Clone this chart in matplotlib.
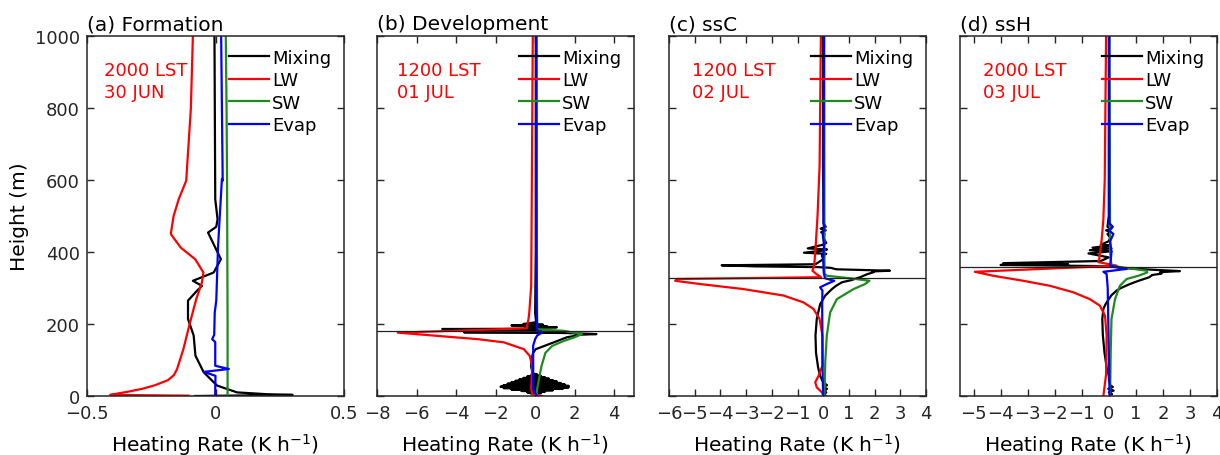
import matplotlib
matplotlib.use("Agg")
import matplotlib.pyplot as plt
from matplotlib.ticker import FuncFormatter

plt.rcParams['font.family'] = ['DejaVu Sans']
plt.rcParams['mathtext.default'] = 'regular'

# ---------------- (a) Formation ----------------
a_mix_x = [-0.004, -0.001, 0.008, 0.003, -0.029, 0.021, -0.007, -0.088, -0.053, -0.075, -0.107,
           -0.107, -0.085, -0.078, -0.046, 0.006, 0.084, 0.20, 0.30, -0.08]
a_mix_h = [1000, 547, 491, 470, 454, 380, 343, 320, 306, 290, 265,
           214, 168, 112, 66, 29, 10, 5, 3, 0]
a_lw_x = [-0.088, -0.096, -0.114, -0.143, -0.163, -0.174, -0.135, -0.079, -0.047, -0.053,
          -0.075, -0.101, -0.125, -0.150, -0.162, -0.185, -0.235, -0.285, -0.34, -0.38,
          -0.41, -0.105]
a_lw_h = [1000, 797, 598, 547, 500, 450, 412, 380, 343, 315,
          269, 199, 130, 74, 58, 44, 30, 20, 12, 7,
          3, 1]
a_sw_x = [0.040, 0.043, 0.045, 0.046, 0.047, 0.047]
a_sw_h = [1000, 800, 600, 400, 200, 0]
a_ev_x = [0.022, 0.028, 0.025, 0.010, 0.003, -0.003, -0.005, -0.013, -0.001, -0.001,
          0.052, -0.046, 0.0, -0.001, -0.001]
a_ev_h = [1000, 598, 603, 417, 265, 232, 170, 158, 150, 84,
          75, 67, 56, 20, 0]

# ---------------- (b) Development ----------------
b_mix_x = [0.03, 0.03, 0.0, 0.05, -0.6, 0.4, -1.2, 0.6, -0.3, 1.1, -0.5, 0.2, -4.7, 0.1, -4.2,
           0.3, -2.0, 0.5, -3.6, 1.5, 2.6, 3.1, 2.2, 2.0, 1.6, 0.94, 0.27, 0.03, -0.1, -0.2,
           -0.2, -0.15, -0.1,
           0.1, -0.2, 0.3, -0.4, 0.5, -0.6, 0.7, -0.8, 0.9, -1.0, 1.1, -1.2, 1.3, -1.4, 1.5,
           -1.6, 1.7, -1.75, 1.7, -1.6, 1.4, -1.2, 0.9, -0.7, 0.5, -0.4, 0.3, -0.2, 0.1, 0.0]
b_mix_h = [1000, 400, 230, 205, 200, 198, 196, 194, 192, 191, 189, 187, 186, 185, 184,
           182, 180, 178, 177, 175, 173, 172, 170, 167, 163, 149, 135, 130, 120, 100,
           80, 70, 62,
           60, 58, 56, 54, 52, 50, 48, 46, 44, 42, 40, 38, 36, 34, 32,
           30, 28, 26, 24, 22, 20, 18, 16, 14, 12, 10, 8, 6, 4, 0]
b_lw_x = [-0.12, -0.2, -0.3, -0.34, -0.42, -6.95, -4.94, -2.92, -1.58, -0.57, -0.27, -0.15,
          -0.2, -0.15, 0.35]
b_lw_h = [1000, 306, 230, 213, 188, 176, 167, 158, 149, 130, 111, 83,
          19, 5, 0]
b_sw_x = [0.08, 0.08, 0.1, 0.44, 1.45, 2.37, 1.99, 1.45, 0.86, 0.52, 0.32, 0.19, 0.1, 0.07]
b_sw_h = [1000, 400, 186, 184, 181, 172, 163, 153, 139, 120, 83, 46, 19, 0]
b_ev_x = [0.05, 0.07, 0.1, 0.1, 0.35, 0.1, 0.0, -0.1, -0.1, 0.0, 0.1]
b_ev_h = [1000, 269, 195, 181, 176, 168, 158, 140, 19, 8, 0]

# ---------------- (c) ssC ----------------
c_mix_x = [0.0, 0.0, 0.02, 0.1, -0.1, 0.1, -0.08, 0.05, 0.0, 0.12, -0.02, -0.6, 0.15, -0.1,
           -0.75, 0.12, -0.05, 0.0, -0.3, -3.95, -2.6, -0.2, 0.3, 0.5, 2.6, 1.9, 1.96, 1.7,
           1.44, 1.1, 0.73, 0.5, 0.34, 0.08, -0.12, -0.25, -0.3, -0.28, -0.2, -0.12, 0.0,
           0.15, 0.0, 0.15, 0.05, 0.12, 0.05, 0.1]
c_mix_h = [1000, 600, 480, 470, 465, 460, 455, 450, 440, 425, 420, 410, 407, 403,
           398, 395, 390, 380, 366, 363, 360, 358, 356, 352, 348, 346, 344, 338,
           330, 322, 316, 306, 297, 279, 255, 214, 168, 120, 80, 56, 38,
           30, 25, 20, 15, 10, 5, 0]
c_lw_x = [-0.09, -0.14, -0.22, -0.3, -0.35, -0.42, -0.25, -0.08, -5.7, -5.76, -4.79,
          -3.1, -1.54, -0.77, -0.38, -0.14, -0.03, -0.03, -0.18, -0.31, -0.25, -0.05, 0.01]
c_lw_h = [1000, 640, 501, 408, 362, 348, 338, 330, 325, 320, 311,
          297, 279, 260, 242, 214, 168, 84, 56, 38, 24, 10, 0]
c_sw_x = [0.04, 0.05, 0.14, 1.05, 1.8, 1.63, 1.18, 0.53, 0.27, 0.14, 0.08, 0.05]
c_sw_h = [1000, 340, 334, 327, 320, 311, 297, 269, 232, 168, 94, 0]
c_ev_x = [0.03, 0.01, 0.04, -0.02, 0.03, 0.0, 0.02, 0.07, 0.43, 0.14, -0.12, -0.03, -0.04,
          -0.02, 0.0]
c_ev_h = [1000, 480, 465, 450, 420, 380, 343, 327, 320, 311, 302, 293, 251,
          50, 0]

# ---------------- (d) ssH ----------------
d_mix_x = [0.0, 0.0, -0.05, 0.1, -0.1, 0.08, -0.05, 0.05, 0.0, -0.3, 0.05, -0.6, 0.1, -0.7,
           0.1, -0.75, 0.0, -0.3, -3.9, -1.5, -4.0, -0.5, 0.1, 0.6, 1.8, 2.63, 1.9, 1.95,
           1.6, 1.5, 1.1, 0.78, 0.45, 0.29, 0.1, 0.0, -0.12, -0.2, -0.24, -0.22, -0.16,
           -0.08, 0.0, 0.05, 0.15, -0.02, 0.18, 0.0, 0.12, 0.05]
d_mix_h = [1000, 500, 470, 465, 460, 455, 450, 440, 430, 420, 418, 412, 410, 405,
           402, 396, 385, 375, 369, 366, 364, 361, 359, 355, 350, 347, 344, 340,
           336, 330, 320, 311, 300, 293, 280, 269, 255, 242, 214, 170, 121,
           80, 56, 30, 25, 20, 15, 10, 5, 0]
d_lw_x = [-0.1, -0.15, -0.2, -0.26, -0.35, -0.39, 0.29, -4.95, -4.27, -3.16, -2.17, -1.31,
          -0.7, -0.33, -0.14, -0.08, -0.1, -0.2]
d_lw_h = [1000, 600, 492, 436, 381, 372, 362, 345, 334, 320, 306, 288,
          269, 251, 223, 168, 60, 0]
d_sw_x = [0.02, 0.05, 0.1, 0.91, 1.4, 1.42, 1.09, 0.66, 0.41, 0.23, 0.1, 0.07, 0.05]
d_sw_h = [1000, 400, 362, 353, 348, 343, 334, 325, 306, 269, 214, 120, 0]
d_ev_x = [0.02, 0.02, 0.15, 0.0, 0.17, 0.05, 0.1, 0.05, 0.66, -0.2, -0.08, -0.04, 0.03]
d_ev_h = [1000, 480, 470, 460, 450, 430, 400, 362, 353, 345, 339, 300, 0]

titles = ['(a) Formation', '(b) Development', '(c) ssC', '(d) ssH']
times = ['2000 LST\n30 JUN', '1200 LST\n01 JUL', '1200 LST\n02 JUL', '2000 LST\n03 JUL']
xlims = [(-0.5, 0.5), (-8, 5), (-6, 4), (-5.5, 4)]
xticks = [[-0.5, 0, 0.5], [-8, -6, -4, -2, 0, 2, 4], list(range(-6, 5)), list(range(-5, 5))]
top_lines = [None, 180, 328, 358]
lefts = [87, 377, 669, 960]
text_x = [0.066, 0.078, 0.09, 0.09]

series = [
    [(a_mix_x, a_mix_h), (a_lw_x, a_lw_h), (a_sw_x, a_sw_h), (a_ev_x, a_ev_h)],
    [(b_mix_x, b_mix_h), (b_lw_x, b_lw_h), (b_sw_x, b_sw_h), (b_ev_x, b_ev_h)],
    [(c_mix_x, c_mix_h), (c_lw_x, c_lw_h), (c_sw_x, c_sw_h), (c_ev_x, c_ev_h)],
    [(d_mix_x, d_mix_h), (d_lw_x, d_lw_h), (d_sw_x, d_sw_h), (d_ev_x, d_ev_h)],
]
names = ['Mixing', 'LW', 'SW', 'Evap']
colors = ['k', '#ff0000', '#1f8a1f', '#0000ff']

fmt = FuncFormatter(lambda v, p: ('%g' % v).replace('-', '\u2212'))

fig = plt.figure(figsize=(12.2, 4.56), dpi=100)
W, H = 1220, 456
for i in range(4):
    ax = fig.add_axes([lefts[i] / W, (H - 397) / H, 257 / W, 360 / H])
    for (xs, hs), nm, c in zip(series[i], names, colors):
        ax.plot(xs, hs, color=c, lw=1.6, label=nm)
    if top_lines[i] is not None:
        ax.axhline(top_lines[i], color='#222222', lw=0.9)
    ax.set_xlim(*xlims[i])
    ax.set_ylim(0, 1000)
    ax.set_xticks(xticks[i])
    ax.set_yticks(range(0, 1001, 200))
    ax.xaxis.set_major_formatter(fmt)
    ax.tick_params(direction='in', top=True, right=True, length=5, width=1,
                   labelsize=13, colors='#262626', pad=5)
    ax.tick_params(axis='x', pad=6)
    for s in ax.spines.values():
        s.set_linewidth(1.1)
        s.set_color('#262626')
    if i == 0:
        ax.set_ylabel('Height (m)', fontsize=14.5, labelpad=4)
    else:
        ax.set_yticklabels([])
    ax.set_xlabel('Heating Rate (K h$^{-1}$)', fontsize=14.5, labelpad=6)
    ax.set_title(titles[i], loc='left', fontsize=14.5, pad=5)
    ax.text(text_x[i], 0.93, times[i], transform=ax.transAxes, color='#ff0000',
            fontsize=13, va='top', ha='left', linespacing=1.25)
    ax.legend(loc='upper right', frameon=False, fontsize=13, handlelength=2.2,
              handletextpad=0.2, labelspacing=0.25, borderaxespad=0.3)

fig.savefig('out.png', dpi=100)
